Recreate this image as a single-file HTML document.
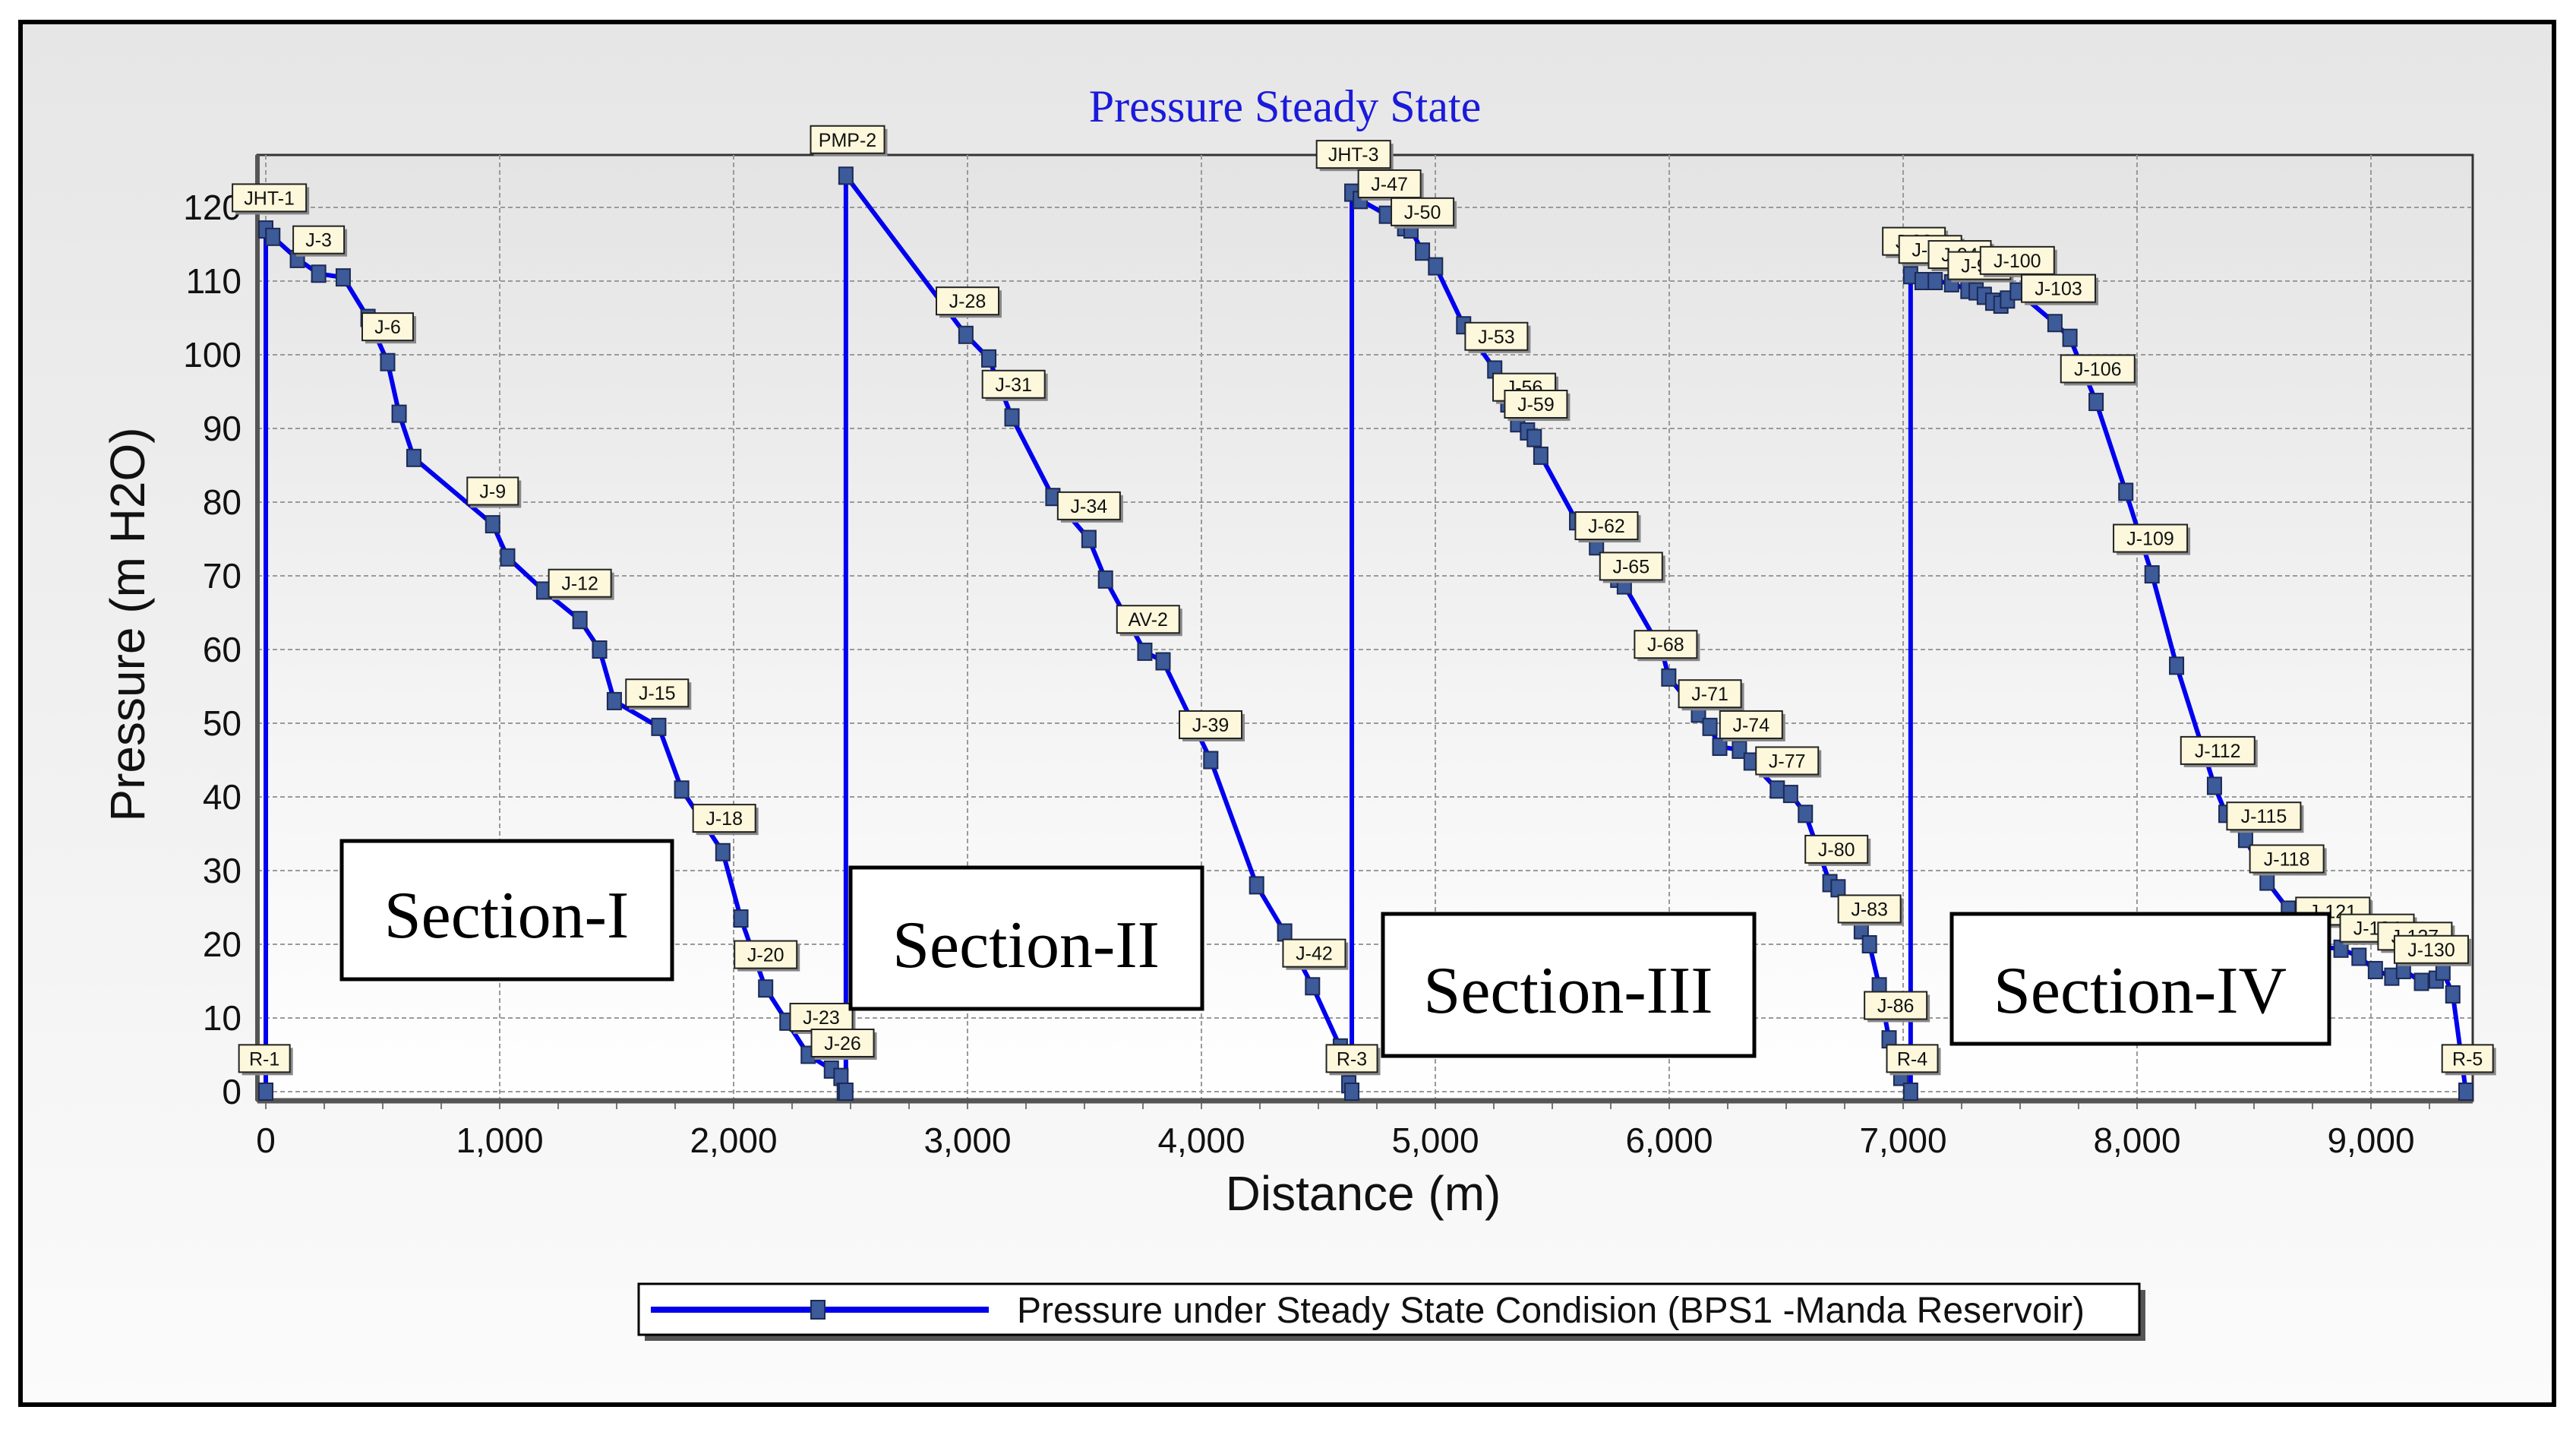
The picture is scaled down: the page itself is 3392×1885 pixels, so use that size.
<!DOCTYPE html>
<html><head><meta charset="utf-8"><style>
html,body{margin:0;padding:0;background:#fff;}
svg{display:block;}
</style></head><body>
<svg id="chart" width="3392" height="1885" viewBox="0 0 3392 1885" xmlns="http://www.w3.org/2000/svg">
<defs>
<linearGradient id="bg" x1="0" y1="0" x2="0" y2="1"><stop offset="0" stop-color="#e6e6e6"/><stop offset="1" stop-color="#fbfbfb"/></linearGradient>
<linearGradient id="pbg" x1="0" y1="0" x2="0" y2="1"><stop offset="0" stop-color="#e4e4e4"/><stop offset="1" stop-color="#ffffff"/></linearGradient>
</defs>
<rect x="27" y="29" width="3336" height="1820" fill="url(#bg)" stroke="#000" stroke-width="6"/>
<rect x="339" y="204" width="2917" height="1245" fill="url(#pbg)" stroke="#333" stroke-width="3"/>
<g id="grid"></g>
<g id="axes"></g>
<g id="series"></g>
<g id="labels"></g>
<text x="1692" y="160" text-anchor="middle" font-family="Liberation Serif, serif" font-size="60" fill="#1a1adb">Pressure Steady State</text>
<text transform="translate(190,822) rotate(-90)" text-anchor="middle" font-family="Liberation Sans, sans-serif" font-size="64" fill="#111">Pressure (m H2O)</text>
<text x="1795" y="1593" text-anchor="middle" font-family="Liberation Sans, sans-serif" font-size="64" fill="#111">Distance (m)</text>
<g><rect x="450" y="1107" width="435" height="182" fill="#fff" stroke="#000" stroke-width="5"/><text x="667" y="1234" text-anchor="middle" font-family="Liberation Serif, serif" font-size="88">Section-I</text></g>
<g><rect x="1120" y="1142" width="463" height="186" fill="#fff" stroke="#000" stroke-width="5"/><text x="1351" y="1273" text-anchor="middle" font-family="Liberation Serif, serif" font-size="88">Section-II</text></g>
<g><rect x="1821" y="1203" width="489" height="187" fill="#fff" stroke="#000" stroke-width="5"/><text x="2065" y="1333" text-anchor="middle" font-family="Liberation Serif, serif" font-size="88">Section-III</text></g>
<g><rect x="2570" y="1203" width="497" height="171" fill="#fff" stroke="#000" stroke-width="5"/><text x="2818" y="1333" text-anchor="middle" font-family="Liberation Serif, serif" font-size="88">Section-IV</text></g>
<g>
<rect x="849" y="1698" width="1976" height="67" fill="#555"/>
<rect x="841" y="1690" width="1976" height="67" fill="#fff" stroke="#000" stroke-width="3"/>
<line x1="857" y1="1724" x2="1302" y2="1724" stroke="#0000ee" stroke-width="8"/>
<rect x="1068" y="1712" width="18" height="24" fill="#3d5a99" stroke="#1b2a55" stroke-width="2"/>
<text x="1339" y="1741" font-family="Liberation Sans, sans-serif" font-size="48" fill="#111">Pressure under Steady State Condision (BPS1 -Manda Reservoir)</text>
</g>
</svg>
<script>
const xs = [0,0,30,135,226,331,437,521,570,633,970,1034,1188,1343,1427,1490,1680,1778,1954,2031,2137,2228,2319,2418,2459,2473,2480,
2480,2993,3091,3190,3365,3519,3590,3758,3836,4040,4236,4356,4475,4594,4630,4643,
4643,4679,4791,4869,4896,4945,5001,5121,5254,5310,5352,5394,5423,5451,5604,5689,5780,5808,5970,5998,6125,6174,6216,6300,6350,6462,6519,6582,6687,6722,6821,6856,6898,6940,6990,7032,
7032,7081,7137,7207,7277,7312,7347,7383,7418,7446,7488,7649,7713,7825,7952,8064,8169,8331,8380,8464,8556,8647,8710,8794,8872,8949,9019,9089,9139,9216,9279,9308,9350,9406];
const ys = [0,117,116,113,111,110.5,105,99,92,86,77,72.5,68,64,60,53,49.5,41,32.5,23.5,14,9.5,5,3,2,0,0,
124.3,102.7,99.5,91.5,80.7,75,69.5,59.7,58.4,45,28,21.6,14.3,6,1,0,
122,121,119,117.3,117,114,112,104,98,93.4,90.7,89.6,88.7,86.3,77.4,74,69.6,68.7,59.7,56.2,51.3,49.5,46.8,46.4,44.8,41,40.4,37.7,28.3,27.6,21.9,20,14.3,7.1,2,0,
110.8,110,110,109.7,108.8,108.6,108,107.2,106.8,107.5,108.6,104.3,102.3,93.6,81.4,70.2,57.8,41.5,37.7,34.3,28.5,24.7,21.4,19.6,19.4,18.3,16.5,15.6,16.5,14.9,15.2,16.3,13.2,0];
const labelNames = ["JHT-1","J-3","J-6","J-9","J-12","J-15","J-18","J-20","J-23","J-26","R-1","PMP-2","J-28","J-31","J-34","AV-2","J-39","J-42","R-3","JHT-3","J-47","J-50","J-53","J-56","J-59","J-62","J-65","J-68","J-71","J-74","J-77","J-80","J-83","J-86","R-4","J-88","J-91","J-94","J-97","J-100","J-103","J-106","J-109","J-112","J-115","J-118","J-121","J-124","J-127","J-130","R-5"];
const labelX = [15,226,521,970,1343,1673,1960,2137,2375,2466,-6,2487,3000,3197,3519,3772,4039,4482,4643,4650,4804,4945,5261,5380,5430,5732,5837,5985,6174,6350,6504,6715,6856,6968,7039,7046,7116,7242,7326,7488,7664,7832,8057,8345,8542,8640,8837,9026,9188,9258,9413];
const labelY = [121.3,115.6,103.8,81.5,69,54.1,37.1,18.6,10.1,6.6,4.5,129.2,107.3,96,79.5,64.1,49.8,18.8,4.5,127.2,123.2,119.4,102.5,95.6,93.3,76.8,71.3,60.7,54,49.8,44.9,32.9,24.8,11.7,4.5,115.4,114.3,113.6,112.1,112.8,109,98.1,75.1,46.3,37.4,31.6,24.5,22.2,21.1,19.3,4.5];
const xTicks = [0,1000,2000,3000,4000,5000,6000,7000,8000,9000];
const xTickLabels = ["0","1,000","2,000","3,000","4,000","5,000","6,000","7,000","8,000","9,000"];
const yTicks = [0,10,20,30,40,50,60,70,80,90,100,110,120];

const NS="http://www.w3.org/2000/svg";
const X = v => 350 + v*0.308;
const Y = v => 1437 - v*9.7;
function mk(tag, attrs, parent){const e=document.createElementNS(NS,tag);for(const k in attrs)e.setAttribute(k,attrs[k]);parent.appendChild(e);return e;}
const grid=document.getElementById('grid'), axes=document.getElementById('axes'), series=document.getElementById('series'), labels=document.getElementById('labels');

yTicks.forEach(t=>{
  const l=mk('line',{x1:339,x2:3256,y1:Y(t),y2:Y(t),stroke:'#9a9a9a','stroke-width':2,'stroke-dasharray':'6,4'},grid);
  
  
  const tx=mk('text',{x:318,y:Y(t)+16,'text-anchor':'end','font-family':'Liberation Sans, sans-serif','font-size':46,fill:'#111'},axes);
  tx.textContent=t;
  
  
});
xTicks.forEach((t,i)=>{
  const l=mk('line',{x1:X(t),x2:X(t),y1:204,y2:1449,stroke:'#9a9a9a','stroke-width':2,'stroke-dasharray':'6,4'},grid);
  
  
  const tx=mk('text',{x:X(t),y:1517,'text-anchor':'middle','font-family':'Liberation Sans, sans-serif','font-size':46,fill:'#111'},axes);
  tx.textContent=xTickLabels[i];
  
  
});
for(let v=0; v<=9400; v+=250){
  mk('line',{x1:X(v),x2:X(v),y1:1449,y2:1460,stroke:'#777','stroke-width':2},axes);
}
mk('line',{x1:339,x2:3256,y1:1449,y2:1449,stroke:'#555','stroke-width':7},axes);
mk('line',{x1:339,x2:339,y1:204,y2:1449,stroke:'#555','stroke-width':6},axes);

const pts=xs.map((x,i)=>X(x)+','+Y(ys[i])).join(' ');
const pl=mk('polyline',{points:pts,fill:'none',stroke:'#0000ee','stroke-width':6,'stroke-linejoin':'round'},series);


xs.forEach((x,i)=>{
  const r=mk('rect',{x:X(x)-9,y:Y(ys[i])-11,width:18,height:22,fill:'#3d5a99',stroke:'#1b2a55','stroke-width':2},series);
  
  
});
labelNames.forEach((n,i)=>{
  const w=n.length*15+22, h=36, cx=X(labelX[i]), cy=Y(labelY[i]);
  const g=mk('g',{},labels);
  
  
  mk('rect',{x:cx-w/2+4,y:cy-h/2+4,width:w,height:h,fill:'#888'},g);
  mk('rect',{x:cx-w/2,y:cy-h/2,width:w,height:h,fill:'#fdf8dc',stroke:'#222','stroke-width':2},g);
  const t=mk('text',{x:cx,y:cy+9,'text-anchor':'middle','font-family':'Liberation Sans, sans-serif','font-size':25,fill:'#111'},g);
  t.textContent=n;
});
</script>
</body></html>
